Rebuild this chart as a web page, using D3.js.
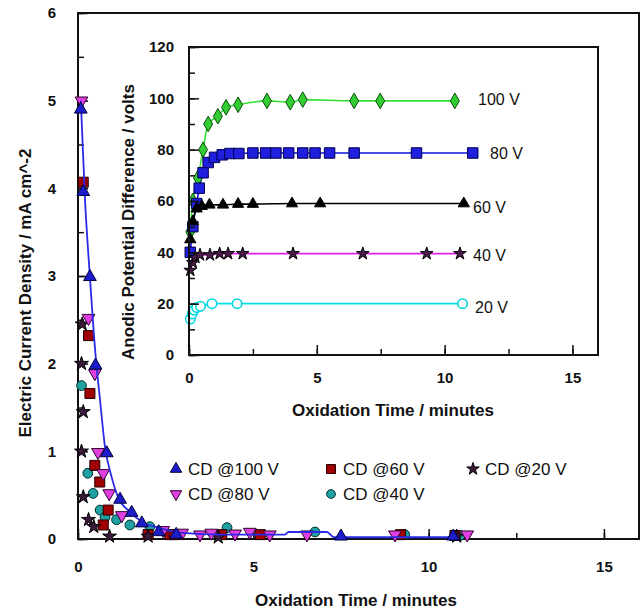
<!DOCTYPE html>
<html><head><meta charset="utf-8">
<script src="https://cdn.jsdelivr.net/npm/d3@7"></script>
<style>
html,body{margin:0;padding:0;background:#fff;}
text{font-family:"Liberation Sans",Arial,sans-serif;fill:#111;}
</style></head>
<body>
<svg id="c" width="644" height="616"></svg>
<script>
// ---------- DATA (main chart: current density, mA cm^-2 vs minutes) ----------
const cd100 = [[0.08,4.9],[0.15,3.96],[0.34,2.99],[0.5,1.98],[0.82,0.98],[1.2,0.45],[1.53,0.3],[1.82,0.18],[2.3,0.08],[2.8,0.05],[7.5,0.03],[10.7,0.03]];
const cd80  = [[0.1,5.0],[0.3,2.52],[0.48,1.89],[0.57,0.99],[0.72,0.75],[0.89,0.52],[1.25,0.27],[2.43,0.1],[2.97,0.07],[3.48,0.05],[3.8,0.07],[4.48,0.06],[4.9,0.08],[5.47,0.05],[6.53,0.05],[9.04,0.05],[11.1,0.05]];
const cd60  = [[0.15,4.07],[0.3,2.32],[0.34,1.66],[0.48,0.84],[0.62,0.65],[0.86,0.33],[0.72,0.16],[2.0,0.05],[2.62,0.05],[2.75,0.05],[4.1,0.05],[5.2,0.05],[9.2,0.05],[10.75,0.04]];
const cd40  = [[0.1,1.75],[0.28,0.75],[0.43,0.52],[0.63,0.33],[0.77,0.25],[1.1,0.22],[1.48,0.16],[2.05,0.14],[4.25,0.13],[6.76,0.08],[9.32,0.05],[10.9,0.04]];
const cd20  = [[0.12,2.45],[0.1,2.0],[0.15,1.45],[0.1,1.0],[0.15,0.48],[0.3,0.22],[0.45,0.14],[0.9,0.03],[2.0,0.03],[4.0,0.02],[10.8,0.03]];
const cdFit = [[0.08,5.0],[0.2,3.87],[0.34,2.99],[0.5,2.1],[0.63,1.58],[0.77,1.05],[0.95,0.72],[1.14,0.48],[1.48,0.31],[1.85,0.19],[2.34,0.125],[3.0,0.07],[4.0,0.05],[5.9,0.05],[6.0,0.08],[7.1,0.08],[7.3,0.02],[10.7,0.02]];

// ---------- DATA (inset: anodic potential difference, volts vs minutes) ----------
const ap100 = [[0.05,48],[0.15,60],[0.35,69],[0.55,80],[0.75,90],[1.13,93],[1.45,96.5],[1.92,97.5],[3.05,99],[3.96,98.5],[4.45,99.5],[6.46,99],[7.48,99],[10.4,99]];
const ap80  = [[0.05,40],[0.15,50],[0.3,59],[0.4,65],[0.55,71],[0.75,75],[1.0,77],[1.3,78],[1.6,78.5],[1.95,78.5],[2.5,78.7],[3.0,78.7],[3.4,78.7],[3.9,78.7],[4.45,78.7],[4.93,78.7],[5.5,78.7],[6.46,78.7],[8.9,78.7],[11.1,78.7]];
const ap60  = [[0.05,45],[0.15,52],[0.3,57],[0.5,58],[0.8,58.5],[1.33,58.5],[1.92,58.8],[2.5,58.8],[4.03,59],[5.13,59],[10.75,59]];
const ap40  = [[0.05,33],[0.15,36],[0.25,38],[0.43,39],[0.82,39],[1.2,39.5],[1.53,39.5],[2.1,39.5],[4.07,39.5],[6.8,39.5],[9.3,39.5],[10.6,39.5]];
const ap20  = [[0.05,14],[0.12,16],[0.2,17.5],[0.3,18.5],[0.45,19],[0.9,20],[1.88,20],[10.7,20]];

const insetLabels = ["100 V","80 V","60 V","40 V","20 V"];
const legendLabels = ["CD @100 V","CD @60 V","CD @20 V","CD @80 V","CD @40 V"];
const mainXTicks = [0,5,10,15];
const mainYTicks = [0,1,2,3,4,5,6];
const insetYTicks = [0,20,40,60,80,100,120];

// ---------- DRAW ----------
const svg = d3.select("#c");
const x = d3.scaleLinear().domain([0,16]).range([78,639]);
const y = d3.scaleLinear().domain([0,6]).range([539,13]);
const xi = d3.scaleLinear().domain([0,16]).range([189,598]);
const yi = d3.scaleLinear().domain([0,120]).range([355,47]);

function axes(g, xs, ys, xt, yt, xMinor, yMinor, xpad, ypad, fs){
  const [x0,x1]=xs.range(), [y0,y1]=ys.range();
  g.append("g").attr("transform",`translate(0,${y0})`)
    .call(d3.axisBottom(xs).tickValues(xMinor).tickSize(-6).tickFormat(""))
    .call(a=>a.select(".domain").remove());
  g.append("g").attr("transform",`translate(${x0},0)`)
    .call(d3.axisLeft(ys).tickValues(yMinor).tickSize(-6).tickFormat(""))
    .call(a=>a.select(".domain").remove());
  g.append("g").attr("transform",`translate(0,${y0})`)
    .call(d3.axisBottom(xs).tickValues(xt).tickSize(-10).tickPadding(xpad).tickFormat(d3.format("d")))
    .call(a=>a.select(".domain").remove())
    .call(a=>a.selectAll("text").style("font-size",fs+"px").style("font-weight","bold").attr("fill","#111"));
  g.append("g").attr("transform",`translate(${x0},0)`)
    .call(d3.axisLeft(ys).tickValues(yt).tickSize(-10).tickPadding(ypad).tickFormat(d3.format("d")))
    .call(a=>a.select(".domain").remove())
    .call(a=>a.selectAll("text").style("font-size",fs+"px").style("font-weight","bold").attr("fill","#111"));
  g.selectAll(".tick line").attr("stroke","#111").attr("stroke-width",1.5);
  g.append("rect").attr("x",x0).attr("y",y1).attr("width",x1-x0).attr("height",y0-y1)
    .attr("fill","none").attr("stroke","#111").attr("stroke-width",2);
}

const mainG = svg.append("g");
axes(mainG, x, y, mainXTicks, mainYTicks, d3.range(0,16.1,2.5), d3.range(0,6.01,0.5), 22, 22, 15);

svg.append("text").attr("x",356).attr("y",606).attr("text-anchor","middle")
  .style("font-size","17px").style("font-weight","bold").text("Oxidation Time / minutes");
svg.append("text").attr("transform","translate(31,293) rotate(-90)").attr("text-anchor","middle")
  .style("font-size","17px").style("font-weight","bold").text("Electric Current Density / mA cm^-2");

const sym = (type,size)=>d3.symbol().type(type).size(size);
const markers = {
  cd100:{type:d3.symbolTriangle, fill:"#1c1cc8", stroke:"#000040", size:70},
  cd80:{type:d3.symbolTriangle, fill:"#e040e0", stroke:"#300030", size:70, rot:180},
  cd60:{type:d3.symbolSquare, fill:"#a00000", stroke:"#200000", size:100},
  cd40:{type:d3.symbolCircle, fill:"#20a0a0", stroke:"#003030", size:75},
  cd20:{type:d3.symbolStar, fill:"#3a1a3a", stroke:"#000", size:60},
};

const line = d3.line().x(d=>x(d[0])).y(d=>y(d[1])).curve(d3.curveMonotoneX);
function drawPts(g, data, m, xs, ys){
  g.selectAll(null).data(data).enter().append("path")
    .attr("d", sym(m.type,m.size)())
    .attr("transform",d=>`translate(${xs(d[0])},${ys(d[1])})${m.rot?` rotate(${m.rot})`:""}`)
    .attr("fill",m.fill).attr("stroke",m.stroke).attr("stroke-width",1);
}
const mp = svg.append("g");
drawPts(mp, cd40, markers.cd40, x, y);
drawPts(mp, cd60, markers.cd60, x, y);
drawPts(mp, cd20, markers.cd20, x, y);
drawPts(mp, cd80, markers.cd80, x, y);
mp.append("path").datum(cdFit.slice().sort((a,b)=>a[0]-b[0])).attr("d",line).attr("fill","none").attr("stroke","#2a2ae8").attr("stroke-width",1.8);
drawPts(mp, cd100, markers.cd100, x, y);

const legItems = [
  {m:markers.cd100, lx:176, ly:469, t:legendLabels[0]},
  {m:markers.cd60,  lx:331, ly:469, t:legendLabels[1]},
  {m:markers.cd20,  lx:473, ly:469, t:legendLabels[2]},
  {m:markers.cd80,  lx:176, ly:494, t:legendLabels[3]},
  {m:markers.cd40,  lx:331, ly:494, t:legendLabels[4]},
];
legItems.forEach(it=>{
  svg.append("path").attr("d",sym(it.m.type,it.m.size*0.8)())
    .attr("transform",`translate(${it.lx},${it.ly})${it.m.rot?` rotate(${it.m.rot})`:""}`)
    .attr("fill",it.m.fill).attr("stroke",it.m.stroke);
  svg.append("text").attr("x",it.lx+12).attr("y",it.ly+6)
    .style("font-size","17px").text(it.t);
});

// ---------- INSET ----------
const ig = svg.append("g");
ig.append("rect").attr("x",189).attr("y",47).attr("width",409).attr("height",308).attr("fill","#fff");
const il = d3.line().x(d=>xi(d[0])).y(d=>yi(d[1])).curve(d3.curveMonotoneX);
const iser = [
  {d:ap100, line:"#33e033", m:{type:d3.symbolDiamond, fill:"#33cc33", stroke:"#0b4d0b", size:70}},
  {d:ap80,  line:"#1010e0", m:{type:d3.symbolSquare, fill:"#1f1fdd", stroke:"#000050", size:110}},
  {d:ap60,  line:"#000000", m:{type:d3.symbolTriangle, fill:"#000", stroke:"#000", size:55}},
  {d:ap40,  line:"#e020e0", m:{type:d3.symbolStar, fill:"#4a1a4a", stroke:"#000", size:50}},
  {d:ap20,  line:"#00e0e8", m:{type:d3.symbolCircle, fill:"#fff", stroke:"#00d8e0", size:70}},
];
iser.forEach(s=>{
  ig.append("path").datum(s.d).attr("d",il).attr("fill","none").attr("stroke",s.line).attr("stroke-width",1.6);
});
iser.forEach(s=>{
  const sw = s.m.fill==="#fff"?1.6:1;
  ig.selectAll(null).data(s.d).enter().append("path")
    .attr("d",sym(s.m.type,s.m.size)())
    .attr("transform",d=>`translate(${xi(d[0])},${yi(d[1])})`)
    .attr("fill",s.m.fill).attr("stroke",s.m.stroke).attr("stroke-width",sw);
});
axes(ig, xi, yi, mainXTicks, insetYTicks, d3.range(0,16.1,2.5), d3.range(0,120.1,10), 17, 15, 15);
const labPos = [[478,99],[490,153],[473,207],[473,255],[475,307]];
insetLabels.forEach((t,i)=>{
  ig.append("text").attr("x",labPos[i][0]).attr("y",labPos[i][1]+6)
    .style("font-size","16px").text(t);
});
svg.append("text").attr("x",393).attr("y",416).attr("text-anchor","middle")
  .style("font-size","17px").style("font-weight","bold").text("Oxidation Time / minutes");
svg.append("text").attr("transform","translate(134,222) rotate(-90)").attr("text-anchor","middle")
  .style("font-size","17px").style("font-weight","bold").text("Anodic Potential Difference / volts");
</script>
</body></html>
